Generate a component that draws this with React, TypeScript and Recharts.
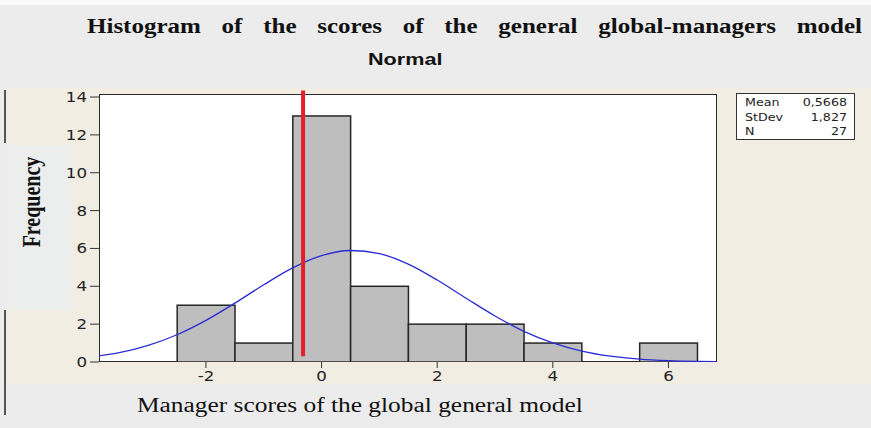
import React from "react";
import {
  ComposedChart,
  Bar,
  Line,
  XAxis,
  YAxis,
  ReferenceLine,
} from "recharts";

// histogram bins (bin width 1, centred on the integers)
const binCenters = [-2, -1, 0, 1, 2, 3, 4, 5, 6];
const frequencies = [3, 1, 13, 4, 2, 2, 1, 0, 1];

// fitted normal curve
const curveX = [
  -3.85, -3.5, -3, -2.5, -2, -1.5, -1, -0.5, 0, 0.5, 1, 1.5, 2, 2.5, 3, 3.5, 4,
  4.5, 5, 5.5, 6, 6.5, 6.84,
];
const curveY = [
  0.32, 0.49, 0.88, 1.44, 2.2, 3.11, 4.08, 4.97, 5.62, 5.89, 5.73, 5.17, 4.33,
  3.37, 2.43, 1.62, 1.01, 0.58, 0.31, 0.15, 0.07, 0.03, 0.02,
];

// red marker line
const markerX = -0.32;
const markerRange = [0.3, 14.35];

const xTicks = [-2, 0, 2, 4, 6];
const yTicks = [0, 2, 4, 6, 8, 10, 12, 14];

const statLabels = ["Mean", "StDev", "N"];
const statValues = ["0,5668", "1,827", "27"];

const X_MIN = -3.85;
const X_MAX = 6.84;
const Y_MAX = 14.16;
const BIN_WIDTH = 1;

const W = 871;
const H = 428;
const PLOT_LEFT = 99;
const PLOT_TOP = 94;
const PLOT_W = 618;
const PLOT_H = 268;
const BIN_PX = (PLOT_W / (X_MAX - X_MIN)) * BIN_WIDTH;

const binData = binCenters.map((x, i) => ({ x, freq: frequencies[i] }));
const curveData = curveX.map((x, i) => ({ x, density: curveY[i] }));

const tickFont = "'DejaVu Sans', Verdana, sans-serif";
const serif = "'Liberation Serif', 'Times New Roman', serif";

// the source image is stretched sideways a bit
const STRETCH = 1.25;

function BinBar(props: any) {
  const { x, y, width, height } = props;
  if (!height || height <= 0) return null;
  const cx = x + width / 2;
  return (
    <rect
      x={cx - BIN_PX / 2}
      y={y}
      width={BIN_PX}
      height={height}
      fill="#bebebe"
      stroke="#262626"
      strokeWidth={1.5}
    />
  );
}

function XTick(props: any) {
  const { x, y, payload } = props;
  return (
    <g transform={`translate(${x},${y}) scale(1.15,1)`}>
      <text x={0} y={0} dy={11} textAnchor="middle" fontSize={14.5} fontFamily={tickFont} fill="#222">
        {payload.value}
      </text>
    </g>
  );
}

function YTick(props: any) {
  const { x, y, payload } = props;
  return (
    <g transform={`translate(${x},${y}) scale(1.15,1)`}>
      <text x={0} y={0} dy={5} textAnchor="end" fontSize={14.5} fontFamily={tickFont} fill="#222">
        {payload.value}
      </text>
    </g>
  );
}

const stretched = (extra: React.CSSProperties): React.CSSProperties => ({
  position: "absolute",
  whiteSpace: "nowrap",
  transformOrigin: "0 0",
  transform: `scaleX(${STRETCH})`,
  color: "#111",
  ...extra,
});

export default function App() {
  return (
    <div
      style={{
        position: "absolute",
        left: 0,
        top: 0,
        width: W,
        height: H,
        background: "#ececec",
        overflow: "hidden",
      }}
    >
      {/* backdrop panels */}
      <div style={{ position: "absolute", left: 0, top: 0, width: W, height: 5, background: "#fafafa" }} />
      <div style={{ position: "absolute", left: 5, top: 88, width: W - 5, height: 296, background: "#f2ede3" }} />
      <div style={{ position: "absolute", left: 5, top: 145, width: 66, height: 165, background: "#eceeee" }} />
      <div style={{ position: "absolute", left: 4, top: 90, width: 2, height: 53, background: "#555" }} />
      <div style={{ position: "absolute", left: 4, top: 310, width: 2, height: 105, background: "#555" }} />

      {/* plot frame */}
      <div
        style={{
          position: "absolute",
          left: PLOT_LEFT,
          top: PLOT_TOP,
          width: PLOT_W,
          height: PLOT_H,
          background: "#ffffff",
          border: "1px solid #2b2b2b",
          boxSizing: "border-box",
        }}
      />

      <div
        style={stretched({
          left: 87,
          top: 14,
          width: 775 / STRETCH,
          fontFamily: serif,
          fontWeight: "bold",
          fontSize: 20,
          textAlign: "justify",
          textAlignLast: "justify",
          lineHeight: "24px",
        })}
      >
        Histogram of the scores of the general global-managers model
      </div>
      <div
        style={stretched({
          left: 368,
          top: 49,
          fontFamily: "'Liberation Sans', Arial, sans-serif",
          fontWeight: "bold",
          fontSize: 17,
          lineHeight: "22px",
          transform: "scaleX(1.27)",
        })}
      >
        Normal
      </div>
      <div
        style={{
          position: "absolute",
          left: 31,
          top: 202,
          transform: `translate(-50%, -50%) scaleX(${STRETCH}) rotate(-90deg)`,
          fontFamily: serif,
          fontWeight: "bold",
          fontSize: 20,
          color: "#111",
          whiteSpace: "nowrap",
          lineHeight: "20px",
        }}
      >
        Frequency
      </div>
      <div
        style={stretched({
          left: 137,
          top: 393,
          fontFamily: serif,
          fontSize: 20,
          lineHeight: "24px",
          transform: "scaleX(1.27)",
        })}
      >
        Manager scores of the global general model
      </div>

      {/* stats box */}
      <div
        style={{
          position: "absolute",
          left: 736,
          top: 93,
          width: 119,
          height: 47,
          border: "1px solid #333",
          boxSizing: "border-box",
          background: "#ffffff",
        }}
      >
        <div
          style={stretched({
            left: 8,
            top: 2,
            width: 102 / 1.15,
            transform: "scaleX(1.15)",
            fontFamily: tickFont,
            fontSize: 11,
            color: "#222",
            lineHeight: "14.5px",
          })}
        >
          {statLabels.map((s, i) => (
            <div key={s} style={{ display: "flex", justifyContent: "space-between" }}>
              <span>{s}</span>
              <span>{statValues[i]}</span>
            </div>
          ))}
        </div>
      </div>

      <div style={{ position: "absolute", left: 0, top: 0 }}>
        <ComposedChart
          width={W}
          height={H}
          data={binData}
          margin={{ top: PLOT_TOP, right: W - PLOT_LEFT - PLOT_W, bottom: H - PLOT_TOP - PLOT_H - 30, left: PLOT_LEFT - 40 }}
        >
          <XAxis
            dataKey="x"
            type="number"
            domain={[X_MIN, X_MAX]}
            ticks={xTicks}
            allowDataOverflow
            axisLine={false}
            tickLine={{ stroke: "#333" }}
            tickSize={6}
            tickMargin={2}
            height={30}
            tick={<XTick />}
          />
          <YAxis
            type="number"
            domain={[0, Y_MAX]}
            ticks={yTicks}
            allowDataOverflow
            axisLine={false}
            tickLine={{ stroke: "#333" }}
            tickSize={9}
            tickMargin={3}
            width={40}
            tick={<YTick />}
          />
          <Bar dataKey="freq" shape={<BinBar />} isAnimationActive={false} />
          <Line
            data={curveData}
            dataKey="density"
            type="monotone"
            stroke="#2b2bd6"
            strokeWidth={1.3}
            dot={false}
            activeDot={false}
            isAnimationActive={false}
          />
          <ReferenceLine
            segment={[
              { x: markerX, y: markerRange[0] },
              { x: markerX, y: markerRange[1] },
            ]}
            stroke="#e3202a"
            strokeWidth={4}
            ifOverflow="visible"
          />
        </ComposedChart>
      </div>
    </div>
  );
}
